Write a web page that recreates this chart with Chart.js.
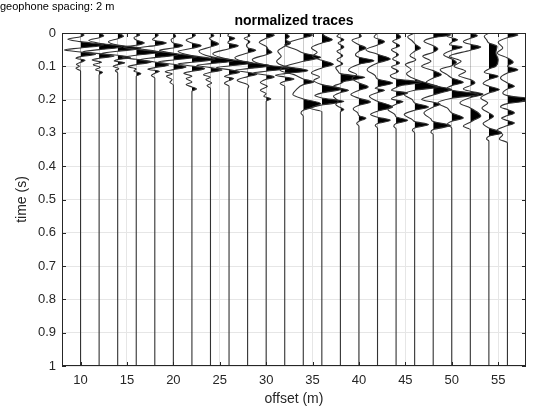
<!DOCTYPE html>
<html>
<head>
<meta charset="utf-8">
<script src="https://cdn.jsdelivr.net/npm/chart.js@4.4.1/dist/chart.umd.min.js"></script>
<style>
  html, body { margin: 0; padding: 0; background: #fff; }
  #wrap { width: 558px; height: 411px; }
</style>
</head>
<body>
<div id="wrap"><canvas id="traces" width="558" height="411"></canvas></div>
<script>
// geophone offsets (m)
const offsets = [10, 12, 14, 16, 18, 20, 22, 24, 26, 28, 30, 32, 34, 36, 38, 40, 42, 44, 46, 48, 50, 52, 54, 56];

// normalized traces, [time (s), amplitude]
const tr10 = [[0,0],[0.006,0.15],[0.011,0],[0.019,-0.55],[0.026,0],[0.036,1.0],[0.045,0],[0.051,-0.7],[0.057,0],[0.064,0.65],[0.071,0],[0.076,-0.2],[0.082,0.2],[0.088,0],[0.094,-0.18],[0.1,-0.05],[0.106,-0.2],[0.114,0],[0.122,0],[1,0]];
const tr12 = [[0,0],[0.008,0.2],[0.014,0],[0.022,-0.45],[0.031,0],[0.041,1.0],[0.05,0],[0.056,-0.7],[0.062,0],[0.069,0.65],[0.076,0],[0.081,-0.3],[0.088,0.1],[0.095,-0.25],[0.103,0.05],[0.11,-0.15],[0.118,0.15],[0.125,0],[0.135,0],[1,0]];
const tr14 = [[0,0],[0.01,0.25],[0.017,0],[0.026,-0.4],[0.036,0],[0.046,1.0],[0.055,0],[0.061,-0.7],[0.067,0],[0.074,0.55],[0.08,0],[0.084,-0.15],[0.089,0.3],[0.095,0],[0.1,-0.2],[0.107,0.05],[0.113,-0.1],[0.12,0],[0.128,0],[1,0]];
const tr16 = [[0,0],[0.006,0.15],[0.014,-0.1],[0.021,0],[0.03,0.35],[0.037,0],[0.043,-0.55],[0.049,0],[0.058,1.0],[0.067,0],[0.073,-0.6],[0.079,0],[0.087,0.65],[0.095,0],[0.101,-0.35],[0.108,0],[0.114,-0.1],[0.122,0.2],[0.13,0],[0.14,0],[1,0]];
const tr18 = [[0,0],[0.006,0.15],[0.014,0],[0.02,-0.1],[0.03,0.5],[0.038,0],[0.045,-0.7],[0.054,0],[0.065,1.0],[0.074,0],[0.08,-0.65],[0.087,0],[0.096,0.6],[0.104,0],[0.109,-0.3],[0.115,0.2],[0.121,0],[0.128,-0.15],[0.135,0],[0.142,0],[1,0]];
const tr20 = [[0,0],[0.01,0.1],[0.02,-0.1],[0.03,0],[0.038,0.4],[0.045,0],[0.052,-0.6],[0.061,0],[0.072,1.0],[0.081,0],[0.087,-0.65],[0.094,0],[0.102,0.55],[0.11,0],[0.116,-0.35],[0.123,-0.05],[0.13,-0.3],[0.14,-0.05],[0.148,-0.15],[0.156,0],[0.164,0],[1,0]];
const tr22 = [[0,0],[0.006,0.15],[0.014,0],[0.021,-0.25],[0.03,0],[0.038,0.4],[0.046,0],[0.055,-0.6],[0.068,0],[0.079,1.0],[0.088,0],[0.093,-0.6],[0.099,0],[0.107,0.55],[0.115,0],[0.121,-0.35],[0.13,0],[0.137,-0.25],[0.147,0],[0.155,-0.25],[0.162,0],[0.168,0.2],[0.175,0],[0.185,0],[1,0]];
const tr24 = [[0,0],[0.008,0.15],[0.016,-0.05],[0.024,0.1],[0.033,0.35],[0.042,0],[0.054,-0.5],[0.071,0],[0.083,1.0],[0.092,0],[0.097,-0.6],[0.104,0],[0.111,0.5],[0.118,0],[0.125,-0.3],[0.133,0],[0.14,-0.2],[0.15,0.05],[0.158,-0.15],[0.166,0],[0.174,0],[1,0]];
const tr26 = [[0,0],[0.008,-0.05],[0.016,0.25],[0.024,0],[0.03,-0.05],[0.038,0.4],[0.047,0],[0.062,-0.7],[0.079,0],[0.09,1.0],[0.099,0],[0.104,-0.55],[0.11,0],[0.118,0.45],[0.125,0],[0.131,-0.2],[0.137,0.2],[0.143,0],[0.151,-0.2],[0.16,0],[0.168,0],[1,0]];
const tr28 = [[0,0],[0.008,0.1],[0.016,-0.15],[0.026,0.1],[0.036,-0.05],[0.044,0],[0.052,0.35],[0.06,0],[0.074,-0.55],[0.088,0],[0.098,1.0],[0.107,0],[0.112,-0.55],[0.118,0],[0.124,0.4],[0.131,0],[0.142,-0.45],[0.155,0],[0.16,0.05],[0.168,0],[0.176,0],[1,0]];
const tr30 = [[0,0.1],[0.007,0.35],[0.016,0],[0.028,-0.3],[0.04,0],[0.05,0.1],[0.058,0.25],[0.065,0],[0.08,-0.6],[0.096,0],[0.106,1.0],[0.115,0],[0.12,-0.55],[0.126,0],[0.132,0.35],[0.139,0],[0.149,-0.25],[0.16,0.05],[0.172,-0.25],[0.182,0],[0.19,-0.1],[0.198,0.2],[0.205,0],[0.212,0],[1,0]];
const tr32 = [[0,0],[0.01,0.2],[0.02,0.05],[0.03,0.25],[0.04,0],[0.055,-0.3],[0.07,-0.15],[0.085,-0.35],[0.1,0],[0.113,1.0],[0.122,0],[0.127,-0.4],[0.132,0],[0.138,0.4],[0.145,0],[0.152,-0.2],[0.16,0],[0.167,0],[1,0]];
const tr34 = [[0,0.1],[0.006,0.4],[0.015,0],[0.025,-0.5],[0.036,-0.8],[0.05,-0.3],[0.06,0],[0.073,0.75],[0.085,0],[0.1,-0.8],[0.112,-1.0],[0.125,-0.4],[0.138,0],[0.147,0.45],[0.155,0],[0.17,-0.3],[0.185,-0.45],[0.198,0],[0.212,0.75],[0.225,0.3],[0.232,0],[0.24,-0.1],[0.25,0],[0.258,0],[1,0]];
const tr36 = [[0,0],[0.01,0.15],[0.02,0.45],[0.03,0],[0.045,-0.45],[0.058,-0.2],[0.07,-0.4],[0.082,0],[0.094,0.5],[0.105,0],[0.12,-0.45],[0.132,-0.1],[0.142,-0.35],[0.155,0],[0.168,0.85],[0.18,0],[0.188,-0.3],[0.195,0],[0.206,0.95],[0.216,0],[0.226,-0.5],[0.236,0],[0.245,0],[1,0]];
const tr38 = [[0,0],[0.01,-0.15],[0.02,0.15],[0.03,-0.1],[0.042,0.15],[0.055,-0.15],[0.068,0.1],[0.08,-0.15],[0.092,0.1],[0.104,-0.2],[0.115,-0.1],[0.122,0],[0.133,1.05],[0.145,0.2],[0.152,0],[0.16,-0.3],[0.166,0],[0.172,0.35],[0.179,0],[0.19,-0.3],[0.205,-0.1],[0.215,-0.2],[0.224,0],[0.23,0.15],[0.237,0],[0.245,0],[1,0]];
const tr40 = [[0,0],[0.01,0.1],[0.022,-0.3],[0.035,0],[0.045,0.3],[0.055,0],[0.065,-0.15],[0.073,0],[0.083,0.65],[0.094,0],[0.112,-0.45],[0.125,-0.1],[0.135,-0.3],[0.15,0],[0.162,0.4],[0.172,0],[0.185,-0.35],[0.196,0],[0.207,0.5],[0.217,0],[0.228,-0.25],[0.24,-0.05],[0.248,0],[0.256,0.3],[0.265,0],[0.272,-0.1],[0.28,0],[0.288,0],[1,0]];
const tr42 = [[0,0],[0.012,-0.15],[0.026,0.3],[0.036,0],[0.05,-0.5],[0.064,0],[0.078,0.55],[0.09,0],[0.11,-0.45],[0.128,-0.1],[0.138,0],[0.15,0.65],[0.162,0],[0.166,-0.1],[0.172,0.3],[0.179,0],[0.19,-0.35],[0.205,0],[0.222,0.65],[0.235,0],[0.245,-0.3],[0.253,0],[0.262,0.55],[0.272,0],[0.278,-0.1],[0.286,0],[0.294,0],[1,0]];
const tr44 = [[0,0],[0.012,0.2],[0.025,-0.15],[0.038,0.15],[0.05,-0.2],[0.065,0.1],[0.078,-0.15],[0.09,0.15],[0.102,-0.2],[0.115,0.1],[0.128,-0.25],[0.138,0],[0.148,1.1],[0.158,0.2],[0.164,0],[0.172,-0.2],[0.18,0.5],[0.19,0],[0.198,-0.2],[0.206,0.3],[0.214,0],[0.23,-0.35],[0.245,-0.05],[0.252,0],[0.262,0.5],[0.272,0],[0.28,-0.1],[0.288,0],[0.296,0],[1,0]];
const tr46 = [[0,0],[0.012,-0.3],[0.024,-0.1],[0.035,0.05],[0.045,0.25],[0.055,0],[0.068,-0.2],[0.08,0.05],[0.095,-0.4],[0.11,-0.15],[0.122,-0.35],[0.138,0],[0.152,0.6],[0.162,1.05],[0.172,0],[0.185,-0.45],[0.2,-0.1],[0.21,0],[0.222,0.6],[0.232,0],[0.245,-0.45],[0.26,-0.1],[0.266,0],[0.275,0.6],[0.285,0],[0.292,-0.1],[0.3,0],[0.308,0],[1,0]];
const tr48 = [[0,0.5],[0.006,0.75],[0.014,0],[0.025,-0.4],[0.038,0],[0.048,0.2],[0.058,0],[0.07,-0.45],[0.085,-0.1],[0.1,-0.5],[0.113,0],[0.125,0.35],[0.135,0],[0.148,-0.3],[0.158,0],[0.17,0.8],[0.18,0.3],[0.186,0],[0.2,-0.5],[0.208,0],[0.214,0.3],[0.222,0],[0.24,-0.4],[0.258,-0.1],[0.266,0],[0.278,0.75],[0.29,0],[0.298,-0.1],[0.305,0],[0.312,0],[1,0]];
const tr50 = [[0,0],[0.01,-0.2],[0.02,0.25],[0.028,0],[0.035,-0.1],[0.042,0.45],[0.052,0],[0.065,-0.35],[0.078,0],[0.088,0.2],[0.098,0],[0.11,-0.5],[0.125,-0.2],[0.135,0],[0.148,0.5],[0.158,0],[0.166,-0.2],[0.172,0],[0.184,1.15],[0.196,0],[0.21,-0.6],[0.225,-0.2],[0.24,0],[0.255,0.5],[0.265,0],[0.275,-0.2],[0.285,0],[0.292,0],[1,0]];
const tr52 = [[0,0],[0.008,0.3],[0.016,0],[0.026,-0.3],[0.034,0],[0.042,0.45],[0.052,0],[0.07,-0.9],[0.085,-0.4],[0.1,-0.7],[0.115,-0.2],[0.128,-0.5],[0.14,0],[0.15,0.2],[0.158,0],[0.168,-0.3],[0.175,0],[0.184,0.55],[0.194,0],[0.21,-0.45],[0.225,0],[0.24,0.35],[0.25,0.45],[0.26,0.2],[0.268,0],[0.28,-0.3],[0.29,0],[0.298,0],[1,0]];
const tr54 = [[0,0],[0.01,-0.2],[0.02,-0.1],[0.03,0],[0.04,0.35],[0.06,0.3],[0.08,0.4],[0.1,0.3],[0.108,0],[0.118,-0.2],[0.13,0.4],[0.14,0],[0.152,-0.25],[0.16,0],[0.17,0.45],[0.18,0],[0.195,-0.35],[0.21,-0.05],[0.225,-0.3],[0.24,0],[0.25,0.2],[0.26,0],[0.272,-0.25],[0.285,0],[0.3,0.55],[0.31,0],[0.318,-0.1],[0.325,0],[0.332,0],[1,0]];
const tr56 = [[0,0.2],[0.006,0.45],[0.014,0],[0.028,-0.4],[0.045,-0.2],[0.06,-0.45],[0.075,0],[0.088,0.25],[0.1,0],[0.11,0.45],[0.12,0],[0.135,-0.3],[0.15,0],[0.16,0.3],[0.168,0],[0.18,-0.2],[0.188,0],[0.2,1.15],[0.212,0],[0.222,-0.3],[0.23,0],[0.24,0.3],[0.248,0],[0.256,-0.25],[0.263,0],[0.27,0.3],[0.278,0],[0.292,-0.45],[0.305,-0.2],[0.318,-0.35],[0.33,0],[0.338,0],[1,0]];

const traces = [tr10, tr12, tr14, tr16, tr18, tr20, tr22, tr24, tr26, tr28, tr30, tr32,
                tr34, tr36, tr38, tr40, tr42, tr44, tr46, tr48, tr50, tr52, tr54, tr56];

const xTicks = [10, 15, 20, 25, 30, 35, 40, 45, 50, 55];
const yTicks = [0, 0.1, 0.2, 0.3, 0.4, 0.5, 0.6, 0.7, 0.8, 0.9, 1];

const GAIN = 2.5; // trace deflection in m for amplitude 1
const axisColor = '#262626';
const fontFamily = '"Liberation Sans", Arial, sans-serif';

const datasets = traces.map((tr, i) => ({
    baseline: offsets[i],
    data: tr.map(([t, a]) => ({ x: offsets[i] + a * GAIN, y: t })),
    borderColor: '#333333',
    borderWidth: 1.1,
    pointRadius: 0,
    fill: false,
    cubicInterpolationMode: 'monotone',
}));

// black fill of the positive lobes, clipped to the right of each baseline
const wigglePlugin = {
    id: 'wiggleFill',
    beforeDatasetsDraw(chart) {
        const ctx = chart.ctx;
        const area = chart.chartArea;
        const xs = chart.scales.x;
        chart.data.datasets.forEach((ds, i) => {
            const meta = chart.getDatasetMeta(i);
            const pts = meta.data;
            if (!pts.length) return;
            meta.dataset.updateControlPoints(area, 'y');
            const base = xs.getPixelForValue(ds.baseline);
            ctx.save();
            ctx.beginPath();
            ctx.rect(base, area.top, area.right - base, area.bottom - area.top);
            ctx.clip();
            ctx.beginPath();
            ctx.moveTo(base, pts[0].y);
            ctx.lineTo(pts[0].x, pts[0].y);
            for (let j = 1; j < pts.length; j++) {
                const p = pts[j - 1];
                const c = pts[j];
                ctx.bezierCurveTo(p.cp2x, p.cp2y, c.cp1x, c.cp1y, c.x, c.y);
            }
            ctx.lineTo(base, pts[pts.length - 1].y);
            ctx.closePath();
            ctx.fillStyle = '#000';
            ctx.fill();
            ctx.restore();
        });
    },
    afterDatasetsDraw(chart) {
        const ctx = chart.ctx;
        const a = chart.chartArea;
        const xs = chart.scales.x;
        const ys = chart.scales.y;
        ctx.save();
        ctx.strokeStyle = axisColor;
        ctx.lineWidth = 1;
        ctx.beginPath();
        // inward tick marks on all four sides
        xs.ticks.forEach((t) => {
            const px = Math.round(xs.getPixelForValue(t.value)) + 0.5;
            ctx.moveTo(px, a.bottom); ctx.lineTo(px, a.bottom - 4);
            ctx.moveTo(px, a.top); ctx.lineTo(px, a.top + 4);
        });
        ys.ticks.forEach((t) => {
            const py = Math.round(ys.getPixelForValue(t.value)) + 0.5;
            ctx.moveTo(a.left, py); ctx.lineTo(a.left + 4, py);
            ctx.moveTo(a.right, py); ctx.lineTo(a.right - 4, py);
        });
        ctx.stroke();
        ctx.strokeRect(a.left + 0.5, a.top + 0.5, a.right - a.left - 1, a.bottom - a.top - 1);
        ctx.restore();
    },
    afterDraw(chart) {
        const ctx = chart.ctx;
        const a = chart.chartArea;
        ctx.save();
        ctx.fillStyle = '#000';
        ctx.textBaseline = 'middle';
        ctx.textAlign = 'center';
        ctx.font = 'bold 14px ' + fontFamily;
        ctx.fillText('normalized traces', (a.left + a.right) / 2, 21);
        ctx.textAlign = 'left';
        ctx.font = '11px ' + fontFamily;
        ctx.fillText('geophone spacing: 2 m', 0, 7);
        ctx.restore();
    }
};

new Chart(document.getElementById('traces'), {
    type: 'line',
    data: { datasets: datasets },
    plugins: [wigglePlugin],
    options: {
        indexAxis: 'y',
        responsive: false,
        animation: false,
        events: [],
        layout: { padding: { top: 33, right: 32, left: 0, bottom: 0 } },
        plugins: { legend: { display: false }, tooltip: { enabled: false } },
        scales: {
            x: {
                type: 'linear',
                position: 'bottom',
                min: 8,
                max: 58,
                afterBuildTicks: (s) => { s.ticks = xTicks.map((v) => ({ value: v })); },
                afterFit: (s) => { s.height = 45; },
                grid: { color: '#e6e6e6', drawTicks: false },
                border: { display: false },
                ticks: { color: axisColor, padding: 7, font: { family: fontFamily, size: 13 } },
                title: { display: true, text: 'offset (m)', color: axisColor, padding: { top: 0, bottom: 3 }, font: { family: fontFamily, size: 14 } }
            },
            y: {
                type: 'linear',
                position: 'left',
                reverse: true,
                min: 0,
                max: 1,
                afterBuildTicks: (s) => { s.ticks = yTicks.map((v) => ({ value: v })); },
                afterFit: (s) => { s.width = 62; },
                grid: { color: '#e6e6e6', drawTicks: false },
                border: { display: false },
                ticks: {
                    color: axisColor, padding: 6, font: { family: fontFamily, size: 13 },
                    callback: (v) => String(Math.round(v * 10) / 10)
                },
                title: { display: true, text: 'time (s)', color: axisColor, padding: { top: 14, bottom: 0 }, font: { family: fontFamily, size: 14 } }
            }
        }
    }
});
</script>
</body>
</html>
